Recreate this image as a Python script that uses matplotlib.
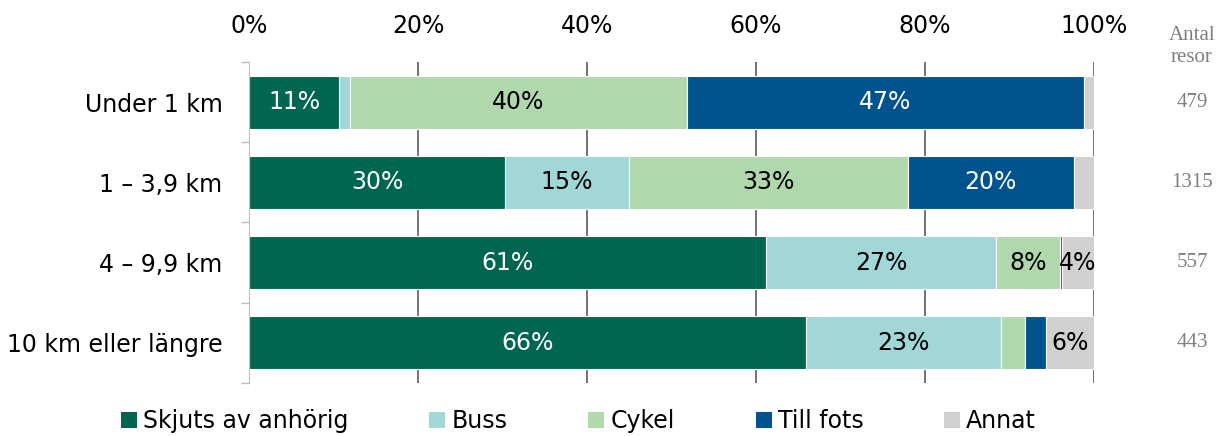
import matplotlib.pyplot as plt
import numpy as np
from matplotlib.patches import Patch
from matplotlib.ticker import FixedLocator

plt.rcParams['font.family'] = ['DejaVu Sans']

categories = ['Under 1 km', '1 – 3,9 km', '4 – 9,9 km', '10 km eller längre']
modes = ['Skjuts av anhörig', 'Buss', 'Cykel', 'Till fots', 'Annat']
colors = ['#00664F', '#A2D7D8', '#B0D8AC', '#00538C', '#D0D0D0']
text_colors = ['white', 'black', 'black', 'white', 'black']

skjuts = [10.7, 30.3, 61.2, 65.9]
buss = [1.2, 14.7, 27.2, 23.1]
cykel = [39.9, 33.0, 7.6, 2.8]
till_fots = [47.0, 19.6, 0.2, 2.5]
annat = [1.2, 2.4, 3.8, 5.7]
antal_resor = [479, 1315, 557, 443]

series = [skjuts, buss, cykel, till_fots, annat]
fs = 17

fig = plt.figure(figsize=(12.17, 4.36), dpi=100)
ax = fig.add_axes([249 / 1217, 1 - 383 / 436, 845 / 1217, 321 / 436])

y = np.arange(len(categories))
left = np.zeros(len(categories))
for vals, col, tcol in zip(series, colors, text_colors):
    vals = np.array(vals)
    ax.barh(y, vals, left=left, height=0.66, color=col,
            edgecolor='white', linewidth=0.8, zorder=2)
    for yi, (l, v) in enumerate(zip(left, vals)):
        if v >= 3.5:
            ax.text(l + v / 2, yi, f'{v:.0f}%', ha='center', va='center',
                    color=tcol, fontsize=fs, zorder=3)
    left += vals

ax.set_xlim(0, 100)
ax.set_ylim(3.5, -0.5)
ax.xaxis.tick_top()
ax.set_xticks(np.arange(0, 101, 20))
ax.set_xticklabels([f'{t}%' for t in range(0, 101, 20)], fontsize=fs)
ax.tick_params(axis='x', length=0, pad=17)
ax.grid(axis='x', color='#595959', linewidth=1.2, zorder=0)
ax.set_axisbelow(True)

ax.set_yticks(y)
ax.set_yticklabels(categories, fontsize=fs)
ax.tick_params(axis='y', which='major', length=0, pad=19)
ax.yaxis.set_minor_locator(FixedLocator(np.arange(-0.5, 4, 1)))
ax.tick_params(axis='y', which='minor', length=6, color='#BFBFBF', width=1)

for s in ['top', 'right', 'bottom']:
    ax.spines[s].set_visible(False)
ax.spines['left'].set_color('#BFBFBF')

# antal resor column at the right
ax.text(1.116, -0.69, 'Antal\nresor', transform=ax.get_yaxis_transform(),
        ha='center', va='center', fontsize=15, family='Liberation Serif',
        color='#7F7F7F', linespacing=1.2)
for yi, n in enumerate(antal_resor):
    ax.text(1.116, yi, str(n), transform=ax.get_yaxis_transform(),
            ha='center', va='center', fontsize=15, family='Liberation Serif',
            color='#7F7F7F')

handles = [Patch(facecolor=c, edgecolor='none') for c in colors]
fig.legend(handles, modes, loc='center', bbox_to_anchor=(0.4754, 0.034),
           ncol=5, frameon=False, fontsize=fs, handlelength=0.68,
           handleheight=0.68, handletextpad=0.25, columnspacing=3.43,
           borderpad=0, borderaxespad=0)

fig.savefig('out.png', dpi=100)
